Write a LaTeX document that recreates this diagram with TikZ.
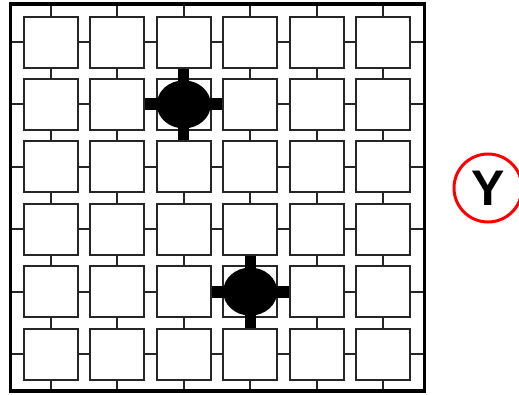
\documentclass[tikz,border=0pt]{standalone}
\usepackage{fontspec}
\setsansfont{Liberation Sans}
\usetikzlibrary{calc}

\begin{document}
\begin{tikzpicture}[x=1pt,y=-1pt,
    cell/.style={draw=black!85, line width=2pt, minimum width=54pt, minimum height=51pt, inner sep=0pt},
    link/.style={draw=black!85, line width=2pt},
    ]
                \useasboundingbox (0,0) rectangle (519,394);
                \def\dx{66.4}
                \def\dy{62.4}
                \coordinate (fr-nw) at (10.7,4);
                \coordinate (fr-se) at (424.5,391);
                % cells
                \foreach \i in {1,...,6}
                  \foreach \j in {1,...,6}
                    \node[cell] (b\i\j) at ({51+(\i-1)*\dx},{42+(\j-1)*\dy}) {};
                % links along the rows
                \foreach \j in {1,...,6} {
                  \draw[link] (fr-nw |- b1\j.west) -- (b1\j.west);
                  \draw[link] (b6\j.east) -- (fr-se |- b6\j.east);
                  \foreach \i [count=\k from 2] in {1,...,5}
                    \draw[link] (b\i\j.east) -- (b\k\j.west);
                }
                % links along the columns
                \foreach \i in {1,...,6} {
                  \draw[link] (b\i1.north |- fr-nw) -- (b\i1.north);
                  \draw[link] (b\i6.south) -- (b\i6.south |- fr-se);
                  \foreach \j [count=\k from 2] in {1,...,5}
                    \draw[link] (b\i\j.south) -- (b\i\k.north);
                }
                \draw[line width=3.4pt] (fr-nw) rectangle (fr-se);
                % blobs
                \fill (b32) ellipse [x radius=27pt, y radius=24pt];
                \draw[line width=12pt] (b22.east) -- (b42.west);
                \draw[line width=11pt] (b31.south) -- (b33.north);
                \fill (b45) ellipse [x radius=27pt, y radius=24pt];
                \draw[line width=12pt] (b35.east) -- (b55.west);
                \draw[line width=11pt] (b44.south) -- (b46.north);
                \node[circle, draw=red, line width=3pt, minimum size=68pt, inner sep=0pt,
                      font=\sffamily\bfseries\fontsize{50}{50}\selectfont] (y) at (488,188) {Y};
            \end{tikzpicture}
\end{document}
